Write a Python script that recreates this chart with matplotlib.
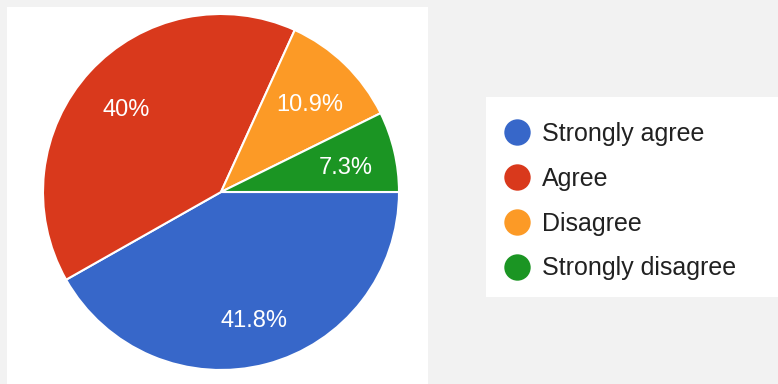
import matplotlib
matplotlib.use("Agg")
import matplotlib.pyplot as plt
from matplotlib.lines import Line2D
from matplotlib.patches import Rectangle
from matplotlib.transforms import offset_copy

plt.rcParams['font.family'] = ['Liberation Sans', 'DejaVu Sans']

# 数据
labels = ['Strongly agree', 'Agree', 'Disagree', 'Strongly disagree']
values = [41.8, 40, 10.9, 7.3]
pct_text = ['41.8%', '40%', '10.9%', '7.3%']
colors = ['#3767c9', '#d9391c', '#fc9a26', '#1b9523']

W, H = 778, 384
fig = plt.figure(figsize=(W / 100, H / 100), dpi=100)
fig.patch.set_facecolor('#f2f2f2')

# 左边白色面板 和 右边图例底板
fig.patches.append(Rectangle((7 / W, 0), 421 / W, 377 / H, transform=fig.transFigure,
                             facecolor='white', edgecolor='none', zorder=-5))
fig.patches.append(Rectangle((486 / W, 87 / H), 292 / W, 200 / H, transform=fig.transFigure,
                             facecolor='white', edgecolor='none', zorder=-5))

ax = fig.add_axes([43 / W, 14 / H, 356 / W, 356 / H], zorder=2)
ax.set_facecolor('none')

idx = iter(range(len(values)))
wedges, _, autotexts = ax.pie(values, colors=colors, startangle=0, counterclock=False,
                              autopct=lambda p: pct_text[next(idx)], pctdistance=0.72,
                              wedgeprops=dict(edgecolor='white', linewidth=1.5),
                              textprops=dict(color='white', fontsize=17))
# 标签稍微往下移一点
for t in autotexts:
    t.set_transform(offset_copy(ax.transData, fig=fig, x=0, y=-5, units='dots'))
ax.set_xlim(-1, 1)
ax.set_ylim(-1, 1)
ax.set_aspect('auto')
ax.axis('off')

handles = [Line2D([], [], marker='o', linestyle='none', markersize=19,
                  markerfacecolor=c, markeredgecolor='none') for c in colors]
leg = fig.legend(handles, labels, loc='upper left', bbox_to_anchor=(504 / W, 1 - 122 / H),
                 frameon=False, fontsize=18, labelcolor='#212121', handlelength=1.0,
                 handletextpad=0.53, labelspacing=0.83, borderpad=0, borderaxespad=0)
leg.set_zorder(3)

fig.savefig('out.png', dpi=100, facecolor=fig.get_facecolor())
